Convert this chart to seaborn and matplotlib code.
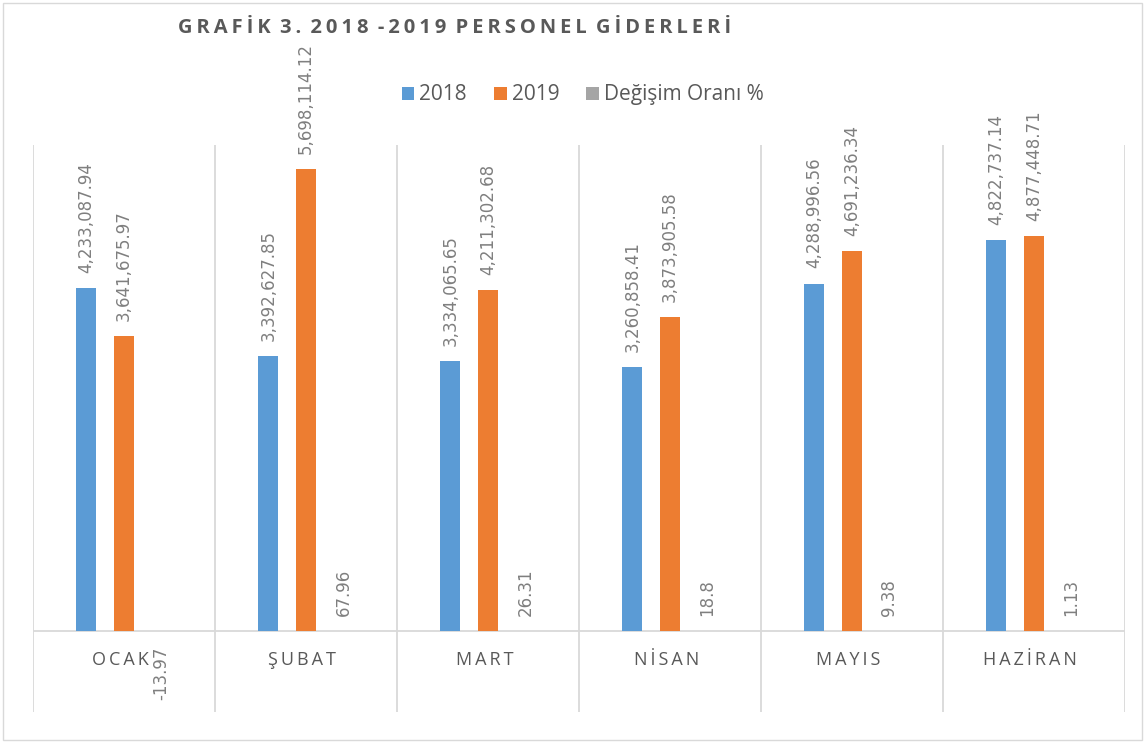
import numpy as np
import pandas as pd
import seaborn as sns
import matplotlib.pyplot as plt
from matplotlib.patches import Rectangle

# veriler
aylar = ["OCAK", "ŞUBAT", "MART", "NİSAN", "MAYIS", "HAZİRAN"]
giderler_2018 = [4233087.94, 3392627.85, 3334065.65, 3260858.41, 4288996.56, 4822737.14]
giderler_2019 = [3641675.97, 5698114.12, 4211302.68, 3873905.58, 4691236.34, 4877448.71]
degisim_orani = [-13.97, 67.96, 26.31, 18.8, 9.38, 1.13]
seriler = ["2018", "2019", "Değişim Oranı %"]
renkler = ["#5B9BD5", "#ED7D31", "#A5A5A5"]

df = pd.DataFrame({
    "ay": aylar * 3,
    "seri": [seriler[0]] * 6 + [seriler[1]] * 6 + [seriler[2]] * 6,
    "deger": giderler_2018 + giderler_2019 + degisim_orani,
})

sns.set_style("white")
plt.rcParams["font.family"] = ["Open Sans", "DejaVu Sans"]

fig = plt.figure(figsize=(11.45, 7.42), dpi=100)
ax = fig.add_axes([0.0288, 0.0404, 0.9537, 0.7642])

sns.barplot(data=df, x="ay", y="deger", hue="seri", palette=renkler,
            width=0.618, gap=0.466, ax=ax, saturation=1, linewidth=0)

ax.set_ylim(-1e6, 6e6)
ax.set_xlim(-0.5, 5.5)
for s in ax.spines.values():
    s.set_visible(False)
ax.set_xticks([])
ax.set_yticks([])
ax.set_xlabel("")
ax.set_ylabel("")

# eksen ve ayirici cizgiler
ax.axhline(0, color="#D9D9D9", lw=1.3, zorder=0)
for xv in np.arange(-0.5, 6, 1):
    ax.axvline(xv, color="#D9D9D9", lw=1.3, zorder=0)

# veri etiketleri
for i, cont in enumerate(ax.containers):
    if i < 2:
        etiket = [f"{v:,.2f}" for v in df[df.seri == seriler[i]].deger]
    else:
        etiket = [f"{v:g}" for v in degisim_orani]
    ax.bar_label(cont, labels=etiket, rotation=90, padding=11,
                 fontsize=12, color="#7F7F7F", family="DejaVu Sans")

# ay etiketleri (harf aralikli)
ince = "\u2009"
for i, ay in enumerate(aylar):
    ax.text(i - 0.02, -0.36e6, ince.join(ay), ha="center", va="center",
            fontsize=13, color="#595959")

# lejant
h, l = ax.get_legend_handles_labels()
ax.legend_.remove()
fig.legend(h, l, loc="center", bbox_to_anchor=(0.509, 0.872), ncol=3,
           frameon=False, fontsize=15, handlelength=0.6, handleheight=0.6,
           handletextpad=0.25, columnspacing=1.3, labelcolor="#595959")

# baslik
baslik = "GRAFİK 3. 2018 -2019 PERSONEL GİDERLERİ"
baslik_aralikli = (" " + ince).join(ince.join(k) for k in baslik.split(" "))
fig.text(0.397, 0.962, baslik_aralikli, ha="center", va="center",
         fontsize=14.5, fontweight="bold", color="#595959")

# cerceve
fig.patches.append(Rectangle((0.003, 0.003), 0.994, 0.993, transform=fig.transFigure,
                             fill=False, edgecolor="#D9D9D9", lw=1))

plt.savefig("out.png", dpi=100)
plt.close()
